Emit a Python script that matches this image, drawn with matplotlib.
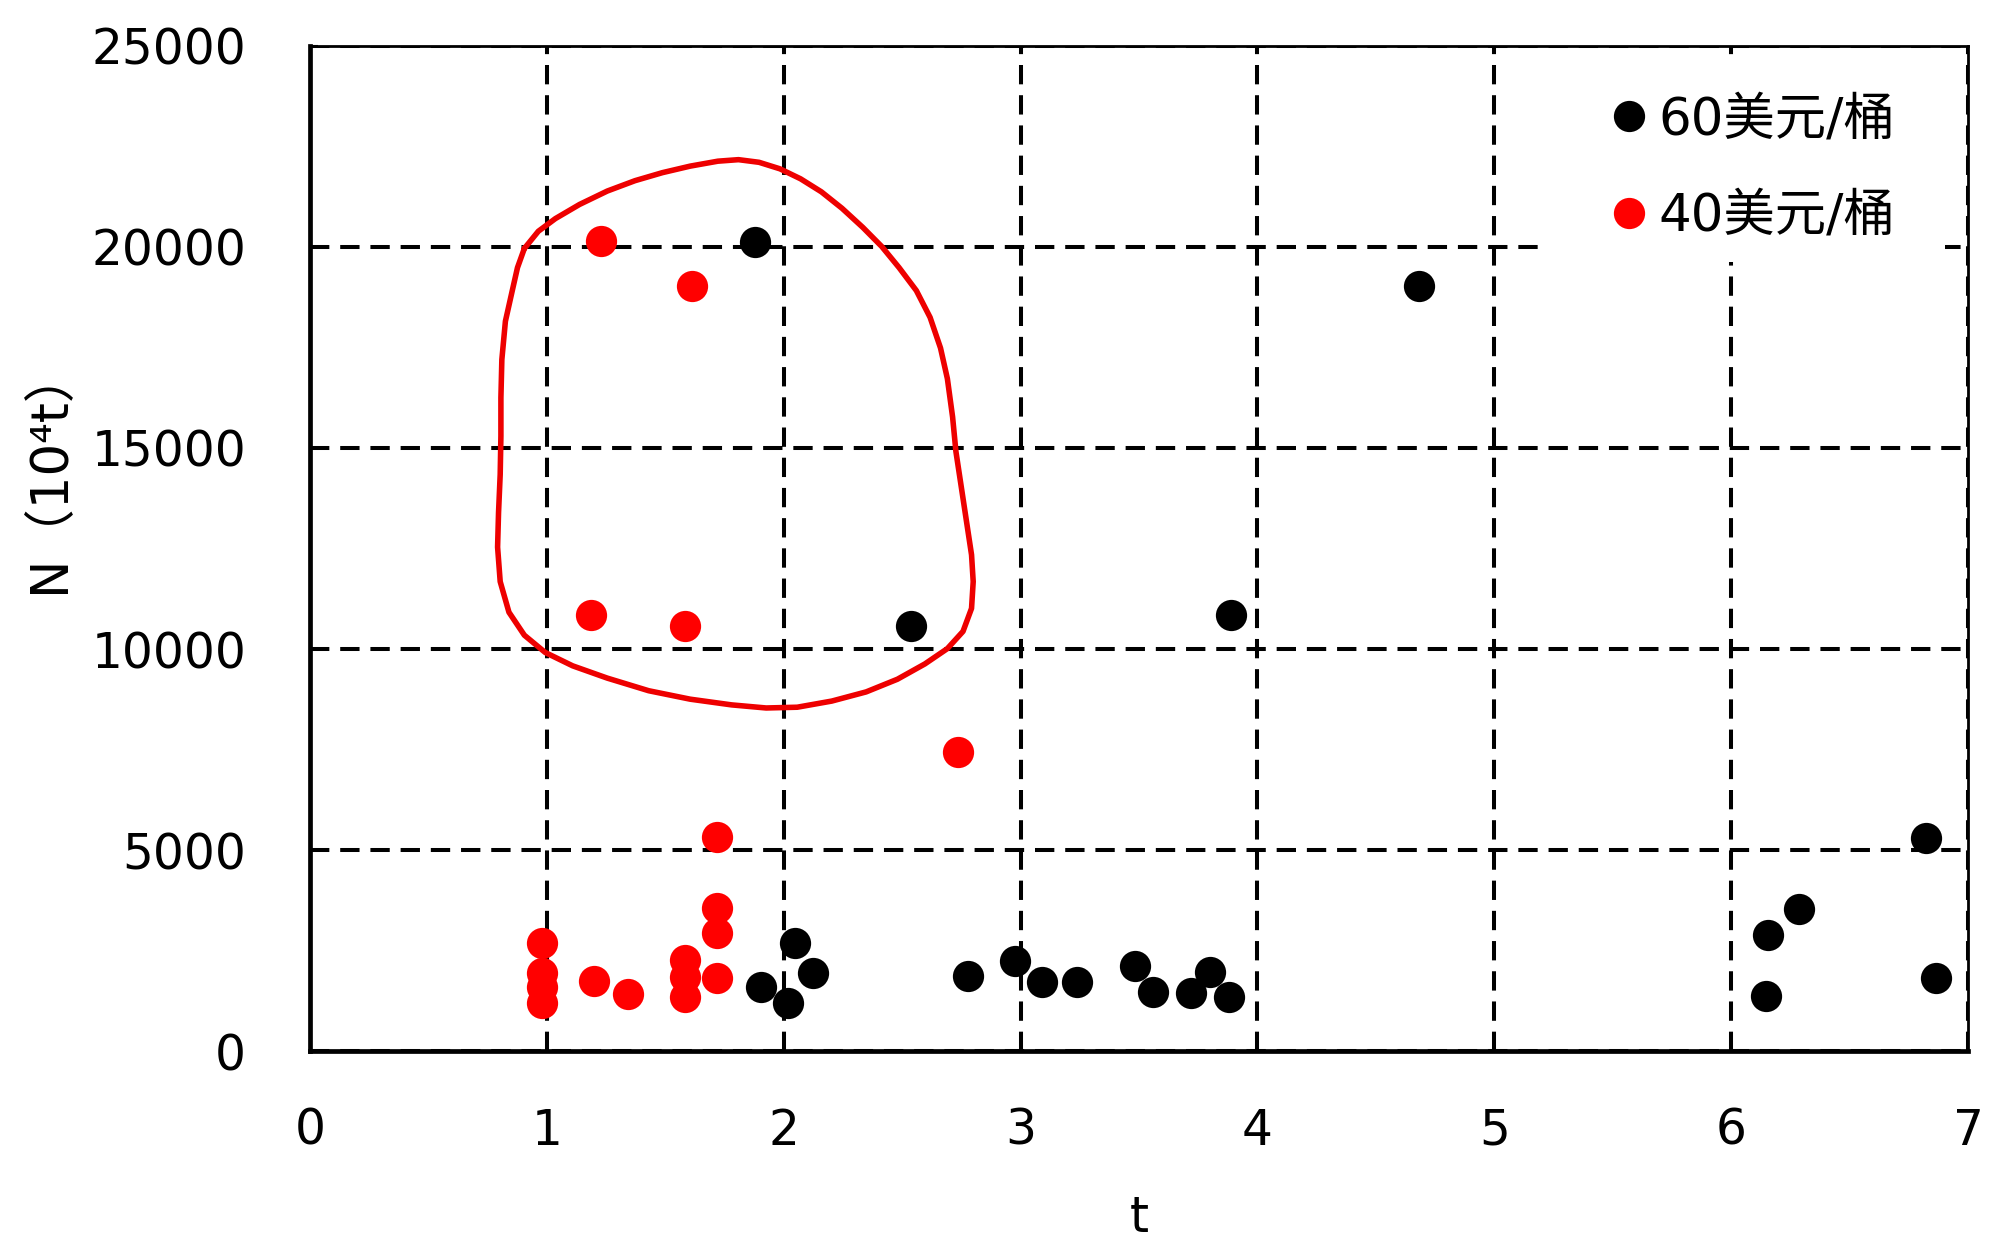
import matplotlib
matplotlib.use("Agg")
import matplotlib.pyplot as plt
from matplotlib.lines import Line2D
from matplotlib.patches import Rectangle

plt.rcParams['font.family'] = ['DejaVu Sans', 'Noto Sans CJK SC']

# 60 美元/桶
t_60 = [1.878, 4.683, 2.538, 3.888, 6.822, 6.286, 6.154, 6.146, 6.865,
        2.048, 2.124, 1.903, 2.019, 2.777, 2.976, 3.089, 3.237, 3.484,
        3.559, 3.720, 3.801, 3.882]
n_60 = [20124, 19027, 10560, 10846, 5291, 3524, 2886, 1368, 1824,
        2680, 1933, 1600, 1186, 1866, 2247, 1708, 1708, 2114,
        1476, 1434, 1973, 1335]

# 40 美元/桶
t_40 = [1.227, 1.612, 1.185, 1.583, 2.736, 1.717, 1.720, 1.720, 1.720,
        0.980, 0.980, 0.980, 0.980, 1.199, 1.344, 1.583, 1.583, 1.583]
n_40 = [20152, 19029, 10848, 10562, 7445, 5315, 3549, 2928, 1824,
        2680, 1933, 1600, 1186, 1741, 1410, 2264, 1849, 1351]

# hand-drawn outline round the red group
curve_t = [0.905, 0.964, 1.036, 1.138, 1.255, 1.372, 1.488, 1.605, 1.722,
           1.809, 1.896, 1.984, 2.071, 2.159, 2.246, 2.334, 2.414, 2.487,
           2.560, 2.618, 2.662, 2.691, 2.713, 2.727, 2.749, 2.771, 2.793,
           2.800, 2.793, 2.757, 2.691, 2.596, 2.480, 2.348, 2.203, 2.057,
           1.926, 1.780, 1.605, 1.430, 1.255, 1.109, 0.993, 0.905, 0.840,
           0.803, 0.792, 0.796, 0.803, 0.806, 0.806, 0.810, 0.825, 0.854,
           0.876, 0.905]
curve_n = [19962, 20390, 20705, 21057, 21390, 21648, 21848, 22010, 22133,
           22171, 22105, 21943, 21695, 21371, 20962, 20486, 20010, 19486,
           18914, 18248, 17486, 16724, 15771, 14914, 14057, 13200, 12343,
           11676, 11010, 10438, 10010, 9629, 9248, 8933, 8705, 8552,
           8533, 8610, 8752, 8962, 9276, 9581, 9914, 10343, 10914,
           11676, 12533, 13390, 14343, 15295, 16248, 17200, 18152, 18914,
           19486, 19962]

labels = ['60美元/桶', '40美元/桶']
colors = ['black', '#ff0000']

fig = plt.figure(figsize=(20, 12.58), dpi=100)
ax = fig.add_axes([0.155, 0.1645, 0.829, 0.799])

ax.plot(curve_t, curve_n, color='#ee0000', lw=4.0, zorder=3,
        solid_joinstyle='round', solid_capstyle='round')
ax.plot(t_40, n_40, 'o', color=colors[1], ms=22.5, mec='none', zorder=4)
ax.plot(t_60, n_60, 'o', color=colors[0], ms=22.5, mec='none', zorder=4)

ax.set_xlim(0, 7)
ax.set_ylim(0, 25000)
ax.set_xticks(range(0, 8))
ax.set_yticks(range(0, 25001, 5000))
ax.grid(True, color='black', lw=2.9, linestyle=(0, (4.8, 2.7)))
ax.set_axisbelow(True)

ax.tick_params(direction='in', length=6, width=1.5, labelsize=35, color='black')
ax.tick_params(axis='y', pad=46)
ax.tick_params(axis='x', pad=40)

for side in ['left', 'bottom']:
    ax.spines[side].set_linewidth(3.4)
for side in ['top', 'right']:
    ax.spines[side].set_linewidth(2.0)

ax.set_xlabel('t', fontsize=35, labelpad=28)
ax.set_ylabel('N（10⁴t）', fontsize=37)
ax.yaxis.set_label_coords(-0.142, 0.579)

# white block behind the legend, hides the grid there
ax.add_patch(Rectangle((0.742, 0.785), 0.244, 0.198, transform=ax.transAxes,
                       facecolor='white', edgecolor='none', zorder=1))

handles = [Line2D([], [], marker='o', ls='none', color=c, ms=22.5, mec='none') for c in colors]
leg = ax.legend(handles, labels, loc='upper right', bbox_to_anchor=(0.976, 0.984),
                fontsize=37, frameon=False, handletextpad=0.17, handlelength=0.8,
                labelspacing=0.9, borderpad=0.15)
leg.set_zorder(10)

fig.savefig('out.png', dpi=100)
